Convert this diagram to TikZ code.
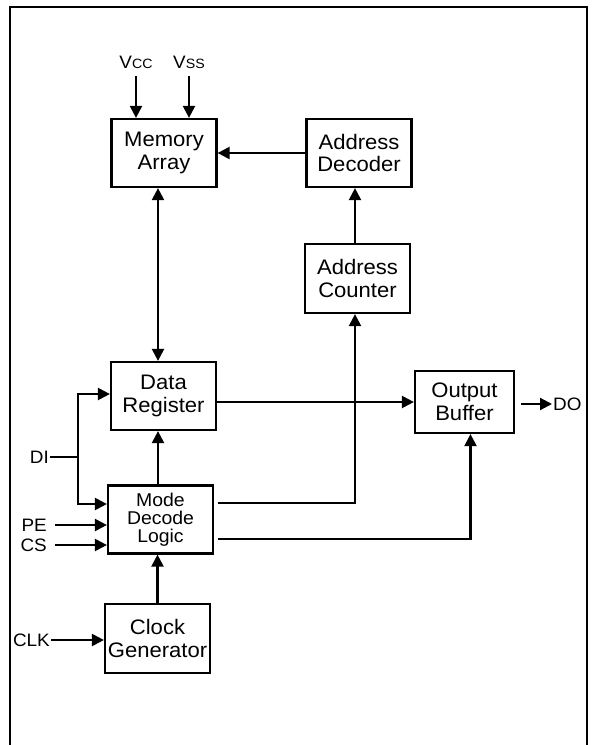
\documentclass[tikz,border=0pt]{standalone}
\usepackage{fontspec}
\setmainfont{Liberation Sans}[FakeStretch=1.05]
\usetikzlibrary{arrows.meta}
\tikzset{block/.style={draw, line width=2.2pt, minimum width=105pt,
        minimum height=68pt, inner sep=0pt, align=center,
        font=\fontsize{21}{22.5}\selectfont},
    pin/.style={inner sep=1pt, font=\fontsize{18}{18}\selectfont},
    wire/.style={line width=2.2pt},
    sig/.style={wire, -{Triangle[length=12pt,width=12pt]}},
    sigboth/.style={wire, {Triangle[length=12pt,width=12pt]}-{Triangle[length=12pt,width=12pt]}},
    }
\newcommand{\smallsub}[1]{{\fontsize{13.5}{13.5}\selectfont #1}}

\begin{document}
\begin{tikzpicture}[x=1pt,y=-1pt]
\useasboundingbox (0,0) rectangle (592,745);
\clip (0,0) rectangle (592,745);
\draw[line width=2.6pt] (10,760) |- (587,7) -- (587,760);%frame

% blocks
\node[block] (mem) at (164,153) {Memory\\Array};
\node[block] (adec) at (359,153) {Address\\Decoder};
\node[block, minimum height=69pt] (acnt) at (357.5,278.5) {Address\\Counter};
\node[block] (dreg) at (163.5,396) {Data\\Register};
\node[block, font=\fontsize{18.5}{18}\selectfont] (mdl) at (160.5,519.5) {Mode\\Decode\\Logic};
\node[block, minimum height=69pt] (cgen) at (157.5,638.5) {Clock\\Generator};
\node[block, minimum width=99pt, minimum height=62pt] (obuf) at (464.5,402) {Output\\Buffer};

% pins
\node[pin] (vcc) at (136,62) {V\smallsub{CC}};
\node[pin] (vss) at (189,62) {V\smallsub{SS}};
\node[pin, anchor=east] (di) at (50,457) {DI};
\node[pin, anchor=east] (pe) at (48,525) {PE};
\node[pin, anchor=east] (cs) at (48,545) {CS};
\node[pin, anchor=east] (clk) at (51,640) {CLK};
\node[pin, anchor=west] (do) at (552,404) {DO};

\coordinate (dij) at (78,457);
\coordinate (bus) at ([xshift=-6pt]mem.south);
\coordinate (ax) at ([xshift=-2.5pt]acnt.south);
\coordinate (mdlhi) at ([xshift=4pt,yshift=16.5pt]mdl.east);
\coordinate (mdllo) at ([xshift=4pt,yshift=-19.5pt]mdl.east);
\coordinate (drin) at ([yshift=2pt]dreg.west);
\coordinate (mdlin) at ([yshift=15.5pt]mdl.west);
\coordinate (obin) at ([xshift=6pt]obuf.south);

% connectors
\draw[sig, shorten <=7pt] (vcc.south) -- (vcc.south |- mem.north);
\draw[sig, shorten <=7pt] (vss.south) -- (vss.south |- mem.north);
\draw[sig] (adec.west) -- (mem.east);
\draw[sig] (ax |- acnt.north) -- (ax |- adec.south);
\draw[sigboth] (bus) -- (bus |- dreg.north);
\draw[sig] (bus |- mdl.north) -- (bus |- dreg.south);
\draw[sig] (cgen.north) -- (cgen.north |- mdl.south);
\draw[sig] (obuf.west -| dreg.east) -- (obuf.west);
\draw[sig, shorten <=6pt] (do.west -| obuf.east) -- (do.west);
\draw[wire] (di.east) -- (dij);
\draw[sig] (dij) |- (drin);
\draw[sig] (dij) |- (mdlin);
\draw[sig, shorten <=7pt] (pe.east) -- (pe.east -| mdl.west);
\draw[sig, shorten <=7pt] (cs.east) -- (cs.east -| mdl.west);
\draw[sig] (clk.east) -- (clk.east -| cgen.west);
\draw[sig] (mdlhi) -| (ax);
\draw[sig] (mdllo) -| (obin);
\end{tikzpicture}
\end{document}
